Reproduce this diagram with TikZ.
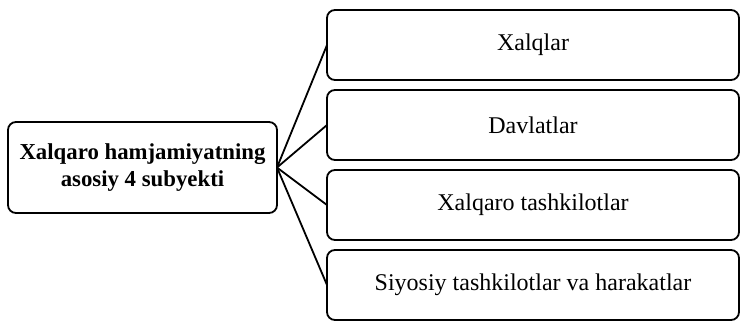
\documentclass[tikz,border=0pt]{standalone}
\usepackage{fontspec}
\setmainfont{Liberation Serif}
\usepackage{tikz}
\usetikzlibrary{positioning}

\begin{document}
\begin{tikzpicture}[
  node distance=5pt,
  hub/.style={draw=black,line width=0.9pt,rounded corners=4pt,outer sep=0pt,align=center,minimum width=134.5pt,minimum height=45.5pt,font=\fontsize{11.4}{13.5}\selectfont\bfseries},
  item/.style={draw=black,line width=0.9pt,rounded corners=4pt,outer sep=0pt,align=center,minimum width=206pt,minimum height=35pt,font=\fontsize{12}{14}\selectfont},
  link/.style={line width=0.9pt,draw=black}
]
\useasboundingbox (0,0) rectangle (370.5pt,-161.5pt);
\node[hub] (subj) at (71.25pt,-83.75pt) {Xalqaro hamjamiyatning\\asosiy 4 subyekti};
\node[item] (xalq) at (266.5pt,-22.5pt) {Xalqlar};
\node[item,below=of xalq] (davl) {Davlatlar};
\node[item,below=of davl] (tash) {Xalqaro tashkilotlar};
\node[item,below=of tash] (siyo) {Siyosiy tashkilotlar va harakatlar};
\foreach \t in {xalq,davl,tash,siyo}
  \draw[link] (subj.east) -- (\t.west);
\end{tikzpicture}
\end{document}
